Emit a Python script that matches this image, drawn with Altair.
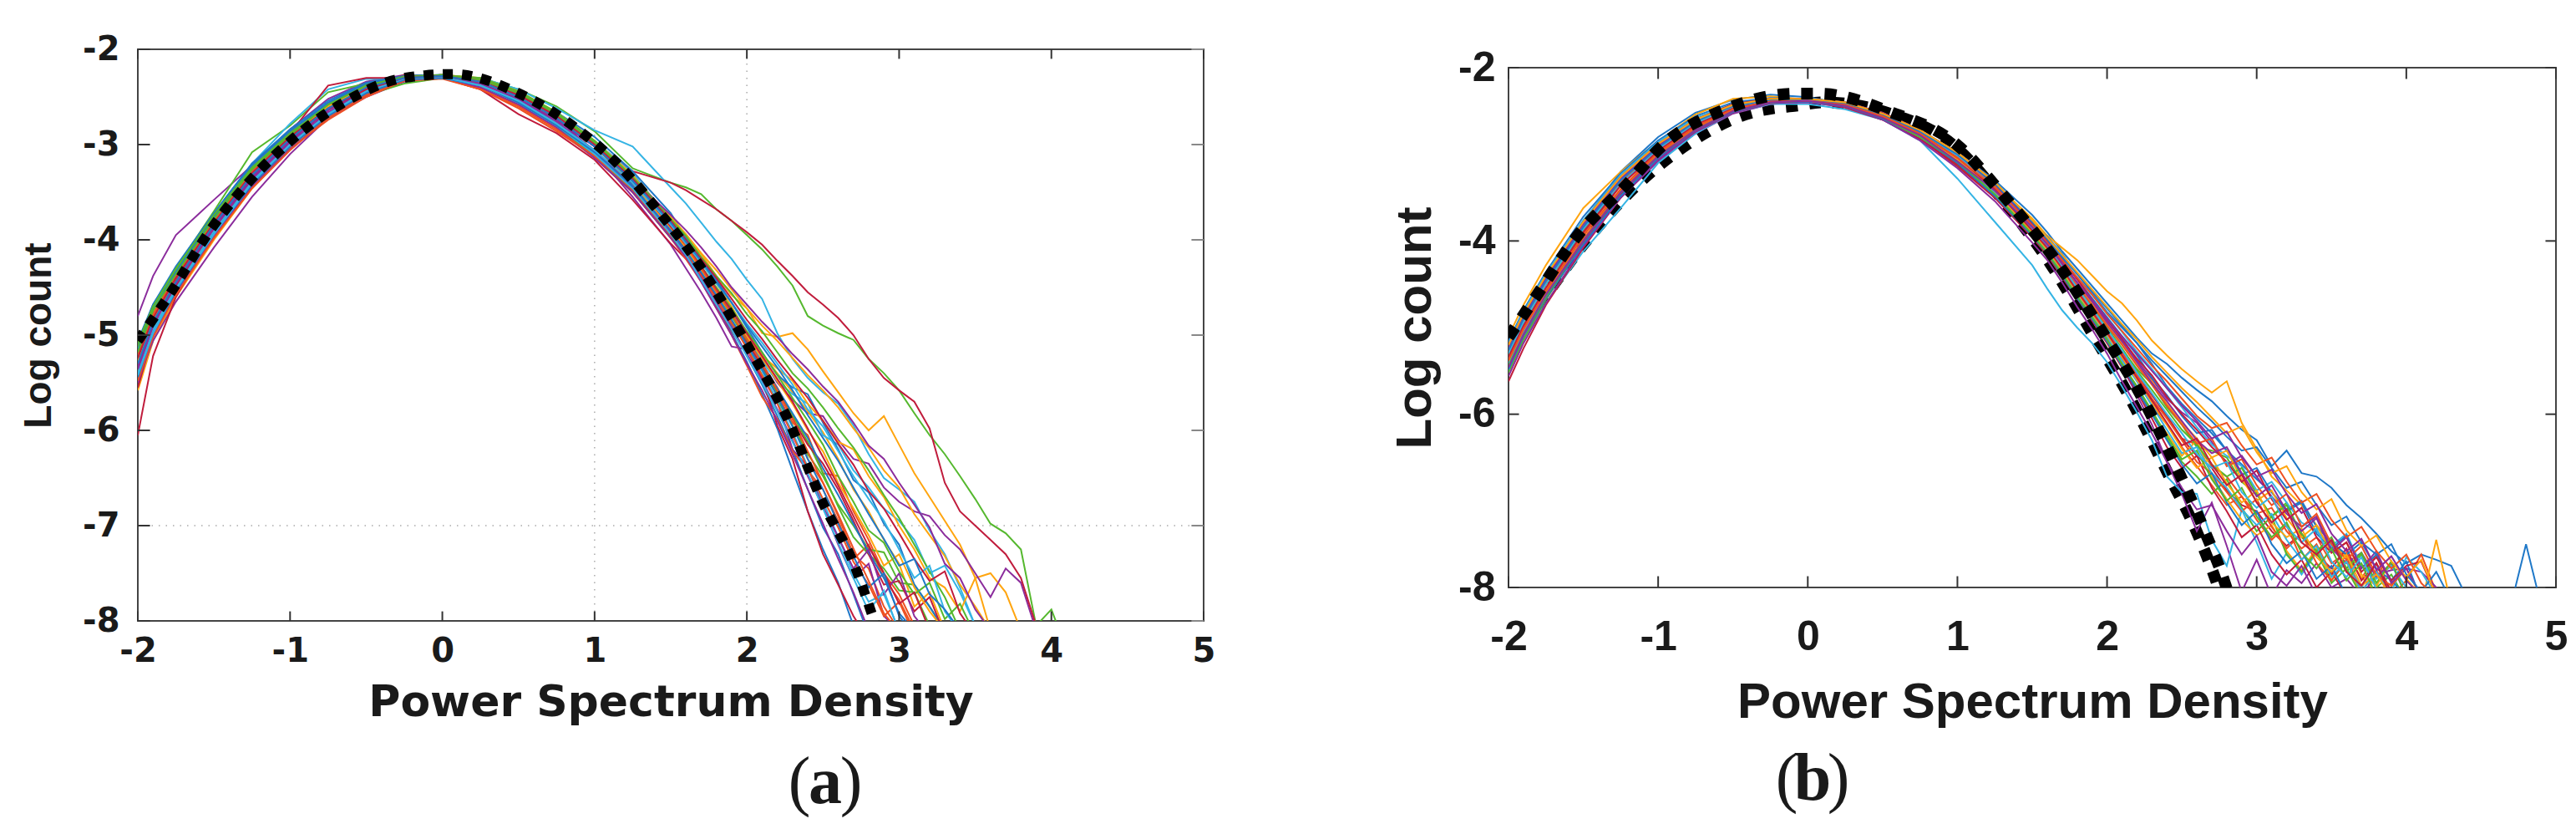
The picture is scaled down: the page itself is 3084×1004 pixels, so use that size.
import pandas as pd
import altair as alt

# matlab style colour order
COLOR_CYCLE = ["#1f78c8", "#ee5022", "#ffa50f", "#8b2c9c", "#55b82e", "#35b4e4", "#c01c3c"]

BODY_X = [-2, -1.9, -1.75, -1.5, -1.25, -1, -0.75, -0.5, -0.25, 0, 0.25, 0.5, 0.75, 1, 1.25, 1.5]
TAIL_X = [round(1.6 + i * 0.1, 1) for i in range(34)]
GRID_X = BODY_X + TAIL_X

X_TICKS = [-2, -1, 0, 1, 2, 3, 4, 5]
Y_TICKS_A = [-2, -3, -4, -5, -6, -7, -8]
Y_TICKS_B = [-2, -4, -6, -8]

# panel (a)
A_CURVES = [
    [-5.10,-4.68,-4.30,-3.72,-3.20,-2.86,-2.56,-2.36,-2.28,-2.27,-2.32,-2.46,-2.68,-2.98,-3.38,-3.88,-4.12,-4.38,-4.62,-4.90,-5.22,-5.52,-5.85,-6.20,-6.62,-7.02,-7.30,-7.72,-8.15],
    [-5.50,-5.00,-4.55,-3.98,-3.44,-3.05,-2.73,-2.48,-2.32,-2.30,-2.42,-2.62,-2.86,-3.12,-3.48,-3.96,-4.10,-4.30,-4.60,-4.80,-5.05,-5.30,-5.55,-5.85,-6.30,-6.55,-6.90,-7.30,-7.45,-7.85,-8.10],
    [-5.58,-5.06,-4.60,-4.00,-3.46,-3.04,-2.72,-2.47,-2.31,-2.29,-2.38,-2.55,-2.78,-3.06,-3.42,-3.80,-3.98,-4.15,-4.38,-4.58,-4.72,-4.98,-5.02,-4.98,-5.15,-5.38,-5.60,-5.82,-6.00,-5.85,-6.15,-6.45,-6.70,-6.95,-7.20,-7.55,-7.50,-7.70,-8.10],
    [-4.80,-4.38,-3.95,-3.58,-3.22,-2.84,-2.52,-2.34,-2.27,-2.28,-2.36,-2.52,-2.74,-3.02,-3.40,-3.88,-4.08,-4.30,-4.55,-4.78,-5.02,-5.25,-5.50,-5.68,-5.82,-5.85,-6.10,-6.30,-6.35,-6.60,-6.75,-6.85,-6.90,-7.10,-7.25,-7.50,-7.75,-7.45,-7.60,-8.10],
    [-5.30,-4.90,-4.30,-3.70,-3.08,-2.80,-2.45,-2.36,-2.30,-2.28,-2.30,-2.42,-2.60,-2.86,-3.25,-3.40,-3.45,-3.52,-3.68,-3.80,-3.95,-4.10,-4.28,-4.48,-4.80,-4.90,-4.98,-5.05,-5.25,-5.40,-5.58,-5.82,-6.05,-6.25,-6.48,-6.72,-6.98,-7.08,-7.25,-8.05,-7.88,-8.30],
    [-5.30,-4.85,-4.45,-3.80,-3.20,-2.78,-2.42,-2.31,-2.32,-2.29,-2.30,-2.42,-2.62,-2.85,-3.02,-3.45,-3.62,-3.82,-4.02,-4.20,-4.42,-4.62,-4.98,-5.25,-5.45,-5.60,-5.72,-5.95,-6.25,-6.50,-6.62,-6.75,-7.05,-7.30,-7.65,-8.05],
    [-5.55,-5.00,-4.50,-3.88,-3.36,-2.88,-2.38,-2.30,-2.30,-2.30,-2.40,-2.58,-2.75,-2.98,-3.28,-3.40,-3.48,-3.58,-3.68,-3.80,-3.92,-4.05,-4.22,-4.38,-4.55,-4.68,-4.82,-5.00,-5.25,-5.45,-5.58,-5.70,-5.98,-6.55,-6.85,-7.00,-7.15,-7.30,-7.55,-8.05],
    [-5.22,-4.78,-4.34,-3.76,-3.24,-2.90,-2.60,-2.40,-2.30,-2.28,-2.35,-2.50,-2.72,-3.02,-3.42,-3.92,-4.15,-4.42,-4.68,-4.98,-5.28,-5.62,-5.98,-6.42,-6.85,-7.25,-7.60,-8.05],
    [-5.42,-4.96,-4.52,-3.94,-3.42,-3.02,-2.70,-2.46,-2.31,-2.29,-2.40,-2.58,-2.82,-3.10,-3.48,-3.98,-4.18,-4.40,-4.66,-4.88,-5.12,-5.35,-5.62,-5.92,-6.05,-6.45,-6.48,-6.85,-7.15,-7.50,-7.72,-8.05],
    [-5.18,-4.76,-4.36,-3.78,-3.26,-2.90,-2.60,-2.40,-2.29,-2.27,-2.30,-2.44,-2.66,-2.96,-3.32,-3.78,-4.02,-4.24,-4.46,-4.70,-4.98,-5.20,-5.40,-5.60,-5.80,-6.02,-6.30,-6.62,-6.85,-7.15,-7.40,-7.85,-7.70,-8.10],
    [-5.46,-5.06,-4.65,-4.08,-3.55,-3.10,-2.72,-2.50,-2.34,-2.28,-2.32,-2.47,-2.72,-3.08,-3.55,-4.05,-4.30,-4.55,-4.82,-5.12,-5.15,-5.45,-5.70,-6.20,-6.38,-6.80,-7.20,-7.55,-7.40,-7.95,-8.10],
    [-5.38,-4.92,-4.54,-3.92,-3.40,-3.00,-2.68,-2.48,-2.36,-2.30,-2.38,-2.54,-2.80,-3.12,-3.50,-3.98,-4.14,-4.38,-4.60,-4.86,-5.12,-5.42,-5.68,-5.95,-6.25,-6.48,-6.78,-7.00,-7.25,-7.28,-7.60,-7.62,-7.85,-8.10],
    [-5.14,-4.72,-4.34,-3.76,-3.24,-2.88,-2.58,-2.38,-2.29,-2.27,-2.32,-2.46,-2.68,-2.96,-3.30,-3.80,-4.05,-4.28,-4.50,-4.74,-5.00,-5.28,-5.48,-5.62,-5.72,-6.05,-6.15,-6.42,-6.60,-6.82,-6.95,-7.15,-7.50,-7.42,-7.70,-8.05],
    [-6.05,-5.22,-4.60,-3.92,-3.40,-3.00,-2.68,-2.40,-2.27,-2.30,-2.42,-2.68,-2.88,-3.16,-3.58,-4.04,-4.20,-4.42,-4.70,-4.95,-5.20,-5.45,-5.95,-6.30,-6.85,-7.30,-7.62,-7.95,-8.20],
    [-5.06,-4.68,-4.28,-3.72,-3.20,-2.84,-2.54,-2.35,-2.28,-2.27,-2.32,-2.45,-2.66,-2.92,-3.28,-3.72,-3.98,-4.20,-4.42,-4.66,-4.92,-5.18,-5.42,-5.55,-5.62,-5.92,-6.20,-6.52,-6.65,-6.98,-7.20,-7.62,-7.85,-8.10],
    [-5.44,-5.00,-4.56,-3.98,-3.44,-3.04,-2.74,-2.50,-2.33,-2.30,-2.42,-2.60,-2.84,-3.14,-3.50,-3.98,-4.20,-4.44,-4.72,-5.00,-5.32,-5.65,-5.88,-6.22,-6.42,-6.62,-6.95,-7.35,-7.20,-7.55,-7.78,-8.10],
    [-5.20,-4.76,-4.36,-3.80,-3.28,-2.92,-2.60,-2.40,-2.29,-2.27,-2.31,-2.44,-2.66,-2.96,-3.32,-3.82,-4.08,-4.30,-4.54,-4.76,-5.00,-5.22,-5.35,-5.48,-5.72,-5.90,-6.12,-6.20,-6.48,-6.70,-7.00,-7.25,-7.55,-7.65,-7.90,-7.55,-8.10],
    [-5.50,-5.02,-4.56,-3.96,-3.44,-3.05,-2.72,-2.48,-2.32,-2.30,-2.40,-2.58,-2.82,-3.14,-3.50,-3.98,-4.18,-4.44,-4.72,-5.00,-5.30,-5.58,-5.90,-6.25,-6.62,-6.98,-7.35,-7.70,-8.10],
    [-5.12,-4.70,-4.32,-3.74,-3.24,-2.88,-2.58,-2.38,-2.28,-2.27,-2.31,-2.46,-2.68,-2.98,-3.36,-3.86,-4.10,-4.32,-4.58,-4.80,-5.06,-5.34,-5.60,-5.84,-6.12,-6.45,-6.80,-7.12,-7.30,-7.45,-7.68,-7.70,-8.05],
    [-5.36,-4.94,-4.50,-3.90,-3.38,-3.00,-2.68,-2.45,-2.32,-2.29,-2.36,-2.54,-2.76,-3.08,-3.44,-3.92,-4.10,-4.35,-4.58,-4.84,-5.10,-5.38,-5.70,-6.02,-6.38,-6.75,-7.12,-7.50,-7.80,-7.72,-8.10],
    [-5.32,-4.88,-4.48,-3.88,-3.36,-2.96,-2.64,-2.42,-2.30,-2.28,-2.34,-2.48,-2.72,-3.00,-3.38,-3.86,-4.12,-4.36,-4.60,-4.85,-5.08,-5.32,-5.58,-5.88,-6.15,-6.35,-6.62,-6.95,-7.30,-7.62,-7.58,-7.90,-7.75,-8.15],
    [-5.16,-4.74,-4.34,-3.76,-3.22,-2.86,-2.56,-2.37,-2.28,-2.27,-2.33,-2.47,-2.70,-3.00,-3.36,-3.84,-4.06,-4.30,-4.52,-4.76,-5.02,-5.30,-5.56,-5.82,-6.08,-6.40,-6.68,-6.98,-7.28,-7.55,-7.92,-8.10],
    [-5.48,-5.02,-4.58,-3.98,-3.46,-3.06,-2.72,-2.48,-2.33,-2.31,-2.42,-2.60,-2.84,-3.12,-3.46,-3.94,-4.14,-4.38,-4.62,-4.86,-5.14,-5.42,-5.72,-6.05,-6.40,-6.72,-7.02,-7.38,-7.62,-7.95,-7.80,-8.15],
    [-5.24,-4.80,-4.40,-3.82,-3.30,-2.94,-2.62,-2.40,-2.30,-2.28,-2.34,-2.50,-2.72,-3.02,-3.40,-3.88,-4.08,-4.32,-4.56,-4.78,-5.02,-5.24,-5.48,-5.72,-6.00,-6.22,-6.55,-6.82,-7.10,-7.42,-7.30,-7.65,-7.90,-8.10],
    [-5.34,-4.90,-4.46,-3.88,-3.36,-2.98,-2.66,-2.44,-2.31,-2.29,-2.36,-2.52,-2.76,-3.06,-3.44,-3.92,-4.16,-4.40,-4.66,-4.92,-5.20,-5.48,-5.78,-6.10,-6.48,-6.80,-7.12,-7.45,-7.25,-7.72,-7.50,-7.95,-8.15],
    [-5.08,-4.70,-4.30,-3.74,-3.24,-2.88,-2.60,-2.38,-2.29,-2.27,-2.30,-2.44,-2.66,-2.96,-3.34,-3.82,-4.04,-4.28,-4.50,-4.72,-4.96,-5.18,-5.42,-5.66,-5.90,-6.15,-6.48,-6.75,-7.05,-7.18,-7.48,-7.72,-7.60,-7.98,-7.82,-8.15],
    [-5.40,-4.96,-4.52,-3.92,-3.40,-3.00,-2.68,-2.44,-2.31,-2.30,-2.38,-2.56,-2.80,-3.10,-3.46,-3.94,-4.16,-4.42,-4.68,-4.94,-5.22,-5.50,-5.80,-6.12,-6.45,-6.82,-7.18,-7.55,-7.90,-7.68,-8.12],
    [-5.26,-4.84,-4.42,-3.84,-3.32,-2.94,-2.62,-2.42,-2.30,-2.28,-2.34,-2.48,-2.72,-3.02,-3.38,-3.86,-4.06,-4.28,-4.52,-4.74,-4.98,-5.22,-5.46,-5.70,-5.98,-6.28,-6.58,-6.90,-7.22,-7.50,-7.82,-7.70,-8.10],
    [-5.44,-4.98,-4.54,-3.94,-3.42,-3.02,-2.70,-2.46,-2.32,-2.30,-2.38,-2.56,-2.80,-3.08,-3.44,-3.90,-4.12,-4.34,-4.58,-4.84,-5.10,-5.36,-5.64,-5.96,-6.30,-6.62,-6.98,-7.32,-7.65,-7.50,-7.95,-8.15],
    [-5.20,-4.78,-4.38,-3.80,-3.28,-2.90,-2.60,-2.40,-2.29,-2.27,-2.32,-2.46,-2.70,-3.00,-3.36,-3.84,-4.06,-4.30,-4.54,-4.78,-5.04,-5.30,-5.58,-5.88,-6.22,-6.55,-6.88,-7.24,-7.58,-7.92,-8.12],
    [-5.28,-4.84,-4.40,-3.82,-3.30,-2.92,-2.60,-2.40,-2.30,-2.28,-2.34,-2.50,-2.72,-3.00,-3.34,-3.76,-3.94,-4.14,-4.32,-4.52,-4.72,-4.90,-5.06,-5.24,-5.42,-5.58,-5.76,-5.98,-6.18,-6.42,-6.60,-6.88,-7.10,-7.32,-7.62,-7.85,-8.10],
    [-5.36,-4.90,-4.46,-3.86,-3.34,-2.96,-2.64,-2.42,-2.31,-2.29,-2.36,-2.52,-2.74,-3.02,-3.36,-3.74,-3.90,-4.08,-4.28,-4.50,-4.68,-4.86,-5.02,-5.20,-5.36,-5.54,-5.70,-5.92,-6.16,-6.30,-6.55,-6.78,-7.02,-7.40,-7.55,-7.88,-8.10],
    [-5.18,-4.74,-4.36,-3.78,-3.26,-2.90,-2.58,-2.38,-2.29,-2.27,-2.32,-2.46,-2.68,-2.98,-3.34,-3.78,-3.96,-4.18,-4.38,-4.56,-4.78,-4.96,-5.18,-5.40,-5.56,-5.76,-5.98,-6.18,-6.42,-6.68,-6.92,-7.20,-7.48,-7.75,-8.10],
    [-5.42,-4.98,-4.52,-3.94,-3.40,-3.00,-2.68,-2.44,-2.31,-2.29,-2.38,-2.54,-2.78,-3.06,-3.40,-3.84,-4.04,-4.24,-4.46,-4.66,-4.88,-5.08,-5.30,-5.52,-5.78,-5.96,-6.22,-6.48,-6.72,-6.95,-7.25,-7.55,-7.42,-7.90,-8.12],
    [-5.24,-4.82,-4.40,-3.82,-3.30,-2.92,-2.62,-2.42,-2.30,-2.28,-2.34,-2.48,-2.70,-3.00,-3.36,-3.80,-4.00,-4.20,-4.40,-4.62,-4.84,-5.04,-5.26,-5.46,-5.66,-5.90,-6.14,-6.36,-6.64,-6.82,-7.08,-7.35,-7.58,-7.48,-7.92,-8.15],
    [-5.30,-4.86,-4.44,-3.84,-3.32,-2.94,-2.62,-2.40,-2.30,-2.28,-2.34,-2.50,-2.72,-3.02,-3.38,-3.82,-4.02,-4.22,-4.44,-4.66,-4.90,-5.12,-5.34,-5.58,-5.84,-6.08,-6.32,-6.60,-6.88,-7.14,-7.42,-7.35,-7.72,-7.88,-8.10],
]
A_BLACK_X = [-2, -1.79, -1.52, -1.2, -1.01, -0.66, -0.25, 0.07, 0.5, 0.88, 1.18, 1.42, 1.66, 1.98, 2.28, 2.49, 2.71, 2.83, 2.9]
A_BLACK_Y = [-5.06, -4.57, -3.89, -3.27, -2.98, -2.57, -2.30, -2.26, -2.46, -2.83, -3.25, -3.70, -4.20, -5.04, -5.92, -6.73, -7.43, -7.97, -8.3]

# panel (b)
B_CURVES = [
    [-5.20,-4.86,-4.40,-3.78,-3.20,-2.80,-2.52,-2.37,-2.31,-2.34,-2.42,-2.56,-2.74,-2.98,-3.30,-3.70,-3.90,-4.12,-4.32,-4.52,-4.72,-4.92,-5.12,-5.30,-5.42,-5.58,-5.72,-5.85,-6.02,-6.18,-6.30,-6.60,-6.42,-6.68,-6.72,-6.85,-7.05,-7.20,-7.38,-7.58,-7.72,-7.62,-7.68,-7.75,-8.10,-8.20,-8.20,-8.20,-7.50,-8.20],
    [-5.42,-5.05,-4.62,-3.98,-3.42,-3.00,-2.70,-2.50,-2.41,-2.38,-2.42,-2.55,-2.78,-3.08,-3.46,-3.92,-4.10,-4.32,-4.58,-4.82,-5.05,-5.32,-5.60,-5.85,-6.02,-6.28,-6.35,-6.60,-6.72,-6.95,-7.15,-7.08,-7.35,-7.55,-7.42,-7.72,-7.60,-7.90,-7.62,-8.10,-7.92,-7.62,-8.05,-8.20],
    [-5.10,-4.74,-4.28,-3.62,-3.20,-2.85,-2.54,-2.36,-2.33,-2.37,-2.42,-2.56,-2.76,-3.00,-3.34,-3.74,-3.94,-4.08,-4.22,-4.40,-4.58,-4.72,-4.92,-5.15,-5.32,-5.48,-5.62,-5.75,-5.62,-6.10,-6.40,-6.72,-6.88,-7.05,-7.28,-7.48,-7.65,-7.88,-8.05,-7.95,-8.20,-8.20,-7.45,-8.20],
    [-5.36,-5.00,-4.60,-4.04,-3.50,-3.08,-2.76,-2.53,-2.42,-2.39,-2.45,-2.56,-2.75,-3.02,-3.38,-3.88,-4.10,-4.35,-4.62,-4.88,-5.12,-5.45,-5.78,-6.12,-6.55,-6.92,-7.35,-7.02,-7.52,-8.05,-7.68,-8.10,-7.80,-7.95,-7.72,-8.00,-7.90,-8.10,-7.85,-7.80,-7.78,-7.82,-8.00,-8.15],
    [-5.32,-4.96,-4.50,-3.86,-3.32,-2.92,-2.62,-2.45,-2.38,-2.38,-2.43,-2.58,-2.82,-3.12,-3.44,-3.90,-4.08,-4.34,-4.60,-4.82,-5.02,-5.25,-5.48,-5.65,-5.92,-6.12,-6.38,-6.42,-6.50,-6.78,-6.92,-7.18,-7.02,-7.42,-7.58,-7.48,-7.82,-7.62,-8.00,-7.85,-8.15],
    [-5.50,-5.14,-4.72,-4.12,-3.62,-3.10,-2.76,-2.52,-2.42,-2.42,-2.48,-2.60,-2.84,-3.28,-3.78,-4.28,-4.55,-4.80,-5.00,-5.18,-5.40,-5.68,-5.98,-6.30,-6.72,-6.90,-6.92,-7.45,-7.75,-7.10,-7.48,-7.90,-7.60,-7.85,-7.60,-7.82,-7.70,-8.00,-7.72,-8.05,-7.65,-7.82,-8.10],
    [-5.62,-5.24,-4.74,-4.08,-3.50,-3.04,-2.72,-2.50,-2.40,-2.39,-2.46,-2.60,-2.82,-3.14,-3.50,-3.94,-4.08,-4.30,-4.54,-4.78,-5.02,-5.28,-5.55,-5.78,-6.02,-6.28,-6.48,-6.62,-6.88,-7.05,-7.12,-7.35,-7.52,-7.38,-7.62,-7.78,-7.55,-7.92,-7.72,-8.05,-8.15],
    [-5.16,-4.80,-4.36,-3.72,-3.22,-2.84,-2.56,-2.40,-2.35,-2.36,-2.40,-2.54,-2.72,-2.98,-3.32,-3.78,-3.95,-4.15,-4.38,-4.60,-4.82,-5.00,-5.18,-5.42,-5.68,-5.88,-6.05,-6.22,-6.42,-6.58,-6.75,-6.90,-7.10,-7.00,-7.30,-7.48,-7.62,-7.48,-7.78,-7.92,-7.70,-8.15],
    [-5.34,-4.98,-4.55,-3.92,-3.36,-2.96,-2.66,-2.47,-2.39,-2.37,-2.42,-2.55,-2.76,-3.04,-3.40,-3.88,-4.12,-4.36,-4.62,-4.86,-5.12,-5.36,-5.62,-5.90,-6.12,-6.38,-6.60,-6.82,-7.05,-6.95,-7.22,-7.45,-7.28,-7.68,-7.50,-7.85,-7.62,-8.10],
    [-5.44,-5.06,-4.64,-4.00,-3.44,-3.02,-2.72,-2.50,-2.40,-2.38,-2.44,-2.58,-2.80,-3.10,-3.46,-3.92,-4.15,-4.40,-4.66,-4.90,-5.15,-5.40,-5.72,-6.00,-6.22,-6.48,-6.30,-6.72,-6.98,-7.22,-7.40,-7.28,-7.58,-7.80,-7.55,-7.92,-7.70,-8.10],
    [-5.24,-4.88,-4.44,-3.82,-3.28,-2.88,-2.60,-2.43,-2.37,-2.37,-2.42,-2.54,-2.74,-3.00,-3.36,-3.82,-4.02,-4.24,-4.48,-4.70,-4.92,-5.12,-5.38,-5.60,-5.82,-5.98,-6.10,-6.32,-6.58,-6.48,-6.72,-6.95,-7.15,-7.30,-7.18,-7.55,-7.72,-7.60,-7.88,-7.72,-8.10],
    [-5.52,-5.14,-4.68,-4.02,-3.46,-3.04,-2.72,-2.50,-2.40,-2.38,-2.44,-2.58,-2.80,-3.12,-3.48,-3.92,-4.10,-4.36,-4.62,-4.88,-5.15,-5.42,-5.68,-5.98,-6.28,-6.55,-6.72,-6.92,-6.75,-7.08,-7.35,-7.18,-7.62,-7.82,-7.58,-7.95,-7.78,-8.10],
    [-5.18,-4.82,-4.38,-3.76,-3.24,-2.86,-2.58,-2.42,-2.36,-2.36,-2.40,-2.52,-2.72,-2.98,-3.32,-3.78,-3.98,-4.20,-4.42,-4.62,-4.84,-5.05,-5.28,-5.48,-5.70,-5.92,-6.15,-6.35,-6.48,-6.60,-6.88,-6.78,-7.02,-7.25,-7.35,-7.52,-7.38,-7.75,-7.90,-7.75,-8.00,-8.20],
    [-5.46,-5.10,-4.66,-4.02,-3.46,-3.04,-2.74,-2.52,-2.41,-2.39,-2.44,-2.60,-2.82,-3.12,-3.50,-3.96,-4.16,-4.42,-4.66,-4.92,-5.18,-5.46,-5.74,-6.05,-6.38,-6.62,-6.48,-6.85,-7.12,-7.42,-7.28,-7.62,-7.85,-7.68,-8.00,-7.82,-8.10],
    [-5.26,-4.90,-4.46,-3.84,-3.30,-2.90,-2.62,-2.44,-2.37,-2.37,-2.41,-2.53,-2.73,-3.00,-3.34,-3.80,-4.00,-4.20,-4.44,-4.66,-4.88,-5.10,-5.32,-5.58,-5.78,-6.02,-6.22,-6.18,-6.42,-6.70,-6.62,-6.90,-7.12,-7.02,-7.38,-7.55,-7.40,-7.78,-7.62,-7.92,-8.10],
    [-5.40,-5.04,-4.60,-3.98,-3.42,-3.00,-2.70,-2.49,-2.39,-2.38,-2.43,-2.56,-2.78,-3.06,-3.42,-3.88,-4.08,-4.32,-4.56,-4.80,-5.04,-5.30,-5.55,-5.82,-6.05,-6.30,-6.55,-6.68,-6.90,-7.12,-6.98,-7.30,-7.55,-7.38,-7.72,-7.92,-7.68,-8.05,-7.80,-8.15],
    [-5.22,-4.86,-4.42,-3.80,-3.26,-2.88,-2.60,-2.43,-2.36,-2.36,-2.41,-2.53,-2.73,-3.00,-3.35,-3.82,-4.04,-4.26,-4.50,-4.72,-4.96,-5.18,-5.42,-5.62,-5.88,-6.10,-6.28,-6.50,-6.42,-6.75,-7.00,-6.88,-7.20,-7.42,-7.28,-7.60,-7.48,-7.85,-7.98,-7.70,-7.90,-8.10],
    [-5.56,-5.18,-4.72,-4.06,-3.50,-3.06,-2.74,-2.52,-2.41,-2.40,-2.45,-2.60,-2.84,-3.16,-3.54,-4.02,-4.22,-4.48,-4.76,-5.02,-5.30,-5.62,-5.92,-6.22,-6.55,-6.85,-7.10,-7.05,-7.35,-7.62,-7.40,-7.82,-7.98,-7.75,-8.10],
    [-5.30,-4.94,-4.50,-3.88,-3.34,-2.94,-2.64,-2.46,-2.38,-2.37,-2.42,-2.54,-2.74,-3.02,-3.38,-3.85,-4.06,-4.30,-4.54,-4.76,-5.00,-5.24,-5.50,-5.72,-5.95,-6.18,-6.35,-6.58,-6.72,-6.62,-6.92,-7.18,-7.05,-7.38,-7.58,-7.42,-7.78,-7.60,-7.95,-7.70,-8.10],
    [-5.42,-5.06,-4.62,-4.00,-3.44,-3.02,-2.72,-2.50,-2.40,-2.38,-2.43,-2.58,-2.80,-3.08,-3.44,-3.92,-4.12,-4.38,-4.62,-4.86,-5.10,-5.38,-5.62,-5.90,-6.18,-6.45,-6.38,-6.68,-6.85,-7.10,-7.28,-7.15,-7.45,-7.68,-7.52,-7.88,-7.70,-8.05,-7.82,-8.10],
    [-5.20,-4.84,-4.42,-3.78,-3.26,-2.88,-2.60,-2.42,-2.36,-2.36,-2.40,-2.52,-2.72,-2.98,-3.32,-3.80,-4.00,-4.22,-4.44,-4.68,-4.90,-5.14,-5.36,-5.55,-5.80,-6.00,-6.18,-6.38,-6.55,-6.78,-6.65,-6.98,-7.22,-7.08,-7.42,-7.60,-7.48,-7.82,-7.65,-7.92,-7.75,-7.70,-8.10],
    [-5.48,-5.10,-4.66,-4.04,-3.48,-3.04,-2.72,-2.51,-2.40,-2.39,-2.44,-2.59,-2.80,-3.10,-3.48,-3.94,-4.14,-4.40,-4.66,-4.90,-5.16,-5.44,-5.72,-6.00,-6.30,-6.58,-6.80,-6.68,-7.02,-7.28,-7.12,-7.50,-7.72,-7.58,-7.90,-7.75,-8.10],
    [-5.28,-4.92,-4.48,-3.86,-3.32,-2.92,-2.62,-2.45,-2.38,-2.37,-2.42,-2.54,-2.74,-3.02,-3.36,-3.84,-4.04,-4.28,-4.52,-4.74,-4.98,-5.20,-5.44,-5.66,-5.90,-6.12,-6.34,-6.28,-6.60,-6.52,-6.82,-7.05,-6.92,-7.30,-7.15,-7.50,-7.68,-7.52,-7.86,-7.98,-7.78,-8.12],
    [-5.38,-5.02,-4.58,-3.94,-3.40,-2.98,-2.68,-2.48,-2.39,-2.38,-2.43,-2.56,-2.78,-3.06,-3.42,-3.90,-4.10,-4.34,-4.60,-4.84,-5.08,-5.34,-5.60,-5.86,-6.12,-6.40,-6.62,-6.50,-6.80,-7.02,-6.88,-7.25,-7.42,-7.32,-7.65,-7.82,-7.62,-7.98,-7.85,-8.10],
    [-5.22,-4.86,-4.44,-3.80,-3.28,-2.90,-2.60,-2.44,-2.37,-2.37,-2.41,-2.53,-2.74,-3.00,-3.34,-3.82,-4.02,-4.26,-4.48,-4.70,-4.94,-5.16,-5.40,-5.64,-5.85,-6.08,-6.30,-6.45,-6.38,-6.68,-6.95,-6.82,-7.12,-7.35,-7.20,-7.58,-7.42,-7.78,-7.58,-7.95,-7.78,-8.10],
    [-5.44,-5.08,-4.64,-4.00,-3.44,-3.02,-2.72,-2.50,-2.40,-2.38,-2.44,-2.58,-2.80,-3.08,-3.46,-3.92,-4.14,-4.38,-4.64,-4.88,-5.14,-5.42,-5.68,-5.96,-6.25,-6.52,-6.42,-6.75,-7.00,-6.85,-7.18,-7.42,-7.25,-7.60,-7.78,-7.55,-7.92,-7.72,-8.10],
    [-5.30,-4.94,-4.50,-3.86,-3.34,-2.94,-2.64,-2.46,-2.38,-2.37,-2.42,-2.55,-2.75,-3.02,-3.38,-3.86,-4.06,-4.30,-4.54,-4.78,-5.02,-5.26,-5.52,-5.76,-6.00,-6.22,-6.46,-6.62,-6.55,-6.90,-7.08,-6.95,-7.30,-7.48,-7.32,-7.70,-7.88,-7.65,-8.02,-8.15],
    [-5.34,-4.98,-4.54,-3.90,-3.36,-2.96,-2.66,-2.47,-2.39,-2.38,-2.43,-2.56,-2.76,-3.04,-3.40,-3.88,-4.08,-4.32,-4.58,-4.82,-5.06,-5.32,-5.58,-5.84,-6.10,-6.36,-6.28,-6.58,-6.82,-6.70,-7.02,-7.25,-7.10,-7.48,-7.62,-7.45,-7.82,-7.98,-7.72,-8.12],
    [-5.26,-4.90,-4.46,-3.84,-3.30,-2.92,-2.62,-2.44,-2.37,-2.37,-2.41,-2.54,-2.74,-3.00,-3.34,-3.78,-3.98,-4.18,-4.38,-4.58,-4.78,-4.98,-5.18,-5.38,-5.56,-5.74,-5.92,-6.08,-6.26,-6.42,-6.38,-6.62,-6.85,-6.78,-7.05,-7.28,-7.18,-7.48,-7.62,-7.50,-7.85,-8.05,-7.82,-8.15],
    [-5.38,-5.02,-4.58,-3.94,-3.40,-2.98,-2.68,-2.48,-2.39,-2.38,-2.43,-2.56,-2.76,-3.04,-3.38,-3.82,-4.02,-4.22,-4.42,-4.62,-4.84,-5.04,-5.24,-5.44,-5.62,-5.82,-6.02,-6.16,-6.10,-6.36,-6.58,-6.50,-6.78,-7.02,-6.92,-7.22,-7.42,-7.30,-7.58,-7.78,-7.62,-7.95,-8.12],
    [-5.20,-4.84,-4.40,-3.78,-3.26,-2.88,-2.60,-2.43,-2.36,-2.36,-2.40,-2.53,-2.72,-2.98,-3.32,-3.76,-3.96,-4.16,-4.36,-4.56,-4.76,-4.96,-5.14,-5.34,-5.52,-5.70,-5.86,-6.04,-6.22,-6.14,-6.44,-6.68,-6.60,-6.90,-7.10,-6.98,-7.34,-7.52,-7.40,-7.70,-7.88,-7.68,-8.10],
    [-5.46,-5.08,-4.62,-4.00,-3.44,-3.02,-2.72,-2.50,-2.40,-2.38,-2.44,-2.58,-2.78,-3.08,-3.42,-3.84,-4.04,-4.26,-4.48,-4.68,-4.90,-5.10,-5.30,-5.50,-5.70,-5.90,-6.08,-6.28,-6.20,-6.50,-6.72,-6.64,-6.92,-7.14,-7.04,-7.38,-7.58,-7.44,-7.80,-7.64,-7.92,-8.10],
]
B_BLACK_X = [-2, -1.82, -1.54, -1.21, -0.96, -0.55, -0.08, 0.08, 0.55, 0.99, 1.32, 1.65, 1.98, 2.2, 2.45, 2.64, 2.79, 2.85]
B_BLACK_Y = [-5.11, -4.65, -3.94, -3.35, -2.88, -2.48, -2.30, -2.30, -2.51, -2.88, -3.50, -4.21, -5.08, -5.70, -6.56, -7.30, -7.96, -8.3]
B_BLACK2_X = [-2, -1.8, -1.5, -1.07, -0.81, -0.67, -0.38, -0.24, -0.08, 0.1, 0.55, 0.99, 1.3, 1.62, 1.92, 2.15, 2.4, 2.6, 2.74, 2.8]
B_BLACK2_Y = [-5.16, -4.74, -4.04, -3.24, -2.89, -2.74, -2.52, -2.47, -2.44, -2.40, -2.53, -2.92, -3.52, -4.26, -5.12, -5.80, -6.66, -7.36, -7.98, -8.3]


def curves_frame(curves):
    rows = []
    for i, values in enumerate(curves):
        for x, y in zip(GRID_X, values):
            rows.append({"x": x, "y": y, "curve": f"c{i:02d}"})
    return pd.DataFrame(rows)


def panel(curves, back_black, front_black, y_ticks, width, height, opts):
    sx = alt.Scale(domain=[-2, 5], nice=False)
    sy = alt.Scale(domain=[-8, -2], nice=False)
    # same axis object in every layer, axis=None in one layer would drop it for all
    x_enc = alt.X("x:Q", scale=sx, title="Power Spectrum Density",
                  axis=alt.Axis(values=X_TICKS, labelExpr="'' + datum.value", grid=False, ticks=False, domain=False,
                                labelFont=opts["font"], labelFontSize=opts["label_size"], labelFontWeight="bold",
                                labelColor="#1a1a1a", labelPadding=opts["label_pad_x"], labelFlush=False,
                                titleFont=opts["xtitle_font"], titleFontSize=opts["xtitle_size"], titleFontWeight="bold",
                                titleColor="#1a1a1a", titlePadding=opts["xtitle_pad"]))
    y_enc = alt.Y("y:Q", scale=sy, title="Log count",
                  axis=alt.Axis(values=y_ticks, labelExpr="'' + datum.value", grid=False, ticks=False, domain=False,
                                labelFont=opts["font"], labelFontSize=opts["label_size"], labelFontWeight="bold",
                                labelColor="#1a1a1a", labelPadding=opts["label_pad_y"],
                                titleFont="Liberation Sans", titleFontSize=opts["ytitle_size"], titleFontWeight="bold",
                                titleColor="#1a1a1a", titlePadding=opts["ytitle_pad"]))
    layers = []

    # dotted grid, only panel (a) shows it
    if opts["grid"]:
        gx = pd.DataFrame({"x": [1, 2]})
        gy = pd.DataFrame({"y": [-7]})
        layers.append(alt.Chart(gx).mark_rule(color="#aaaaaa", strokeWidth=1.5, strokeDash=[1.5, 7]).encode(x=x_enc))
        layers.append(alt.Chart(gy).mark_rule(color="#aaaaaa", strokeWidth=1.5, strokeDash=[1.5, 7]).encode(y=y_enc))

    def black_layer(bx, by):
        return (
            alt.Chart(pd.DataFrame({"x": bx, "y": by}))
            .mark_line(clip=True, color="black", interpolate="monotone",
                       strokeWidth=opts["black_w"], strokeDash=opts["black_dash"])
            .encode(x=x_enc, y=y_enc)
        )

    for bx, by in back_black:
        layers.append(black_layer(bx, by))

    names = [f"c{i:02d}" for i in range(len(curves))]
    palette = [COLOR_CYCLE[i % 7] for i in range(len(curves))]
    layers.append(
        alt.Chart(curves_frame(curves))
        .mark_line(clip=True, strokeWidth=opts["line_w"], strokeJoin="miter")
        .encode(x=x_enc, y=y_enc,
                color=alt.Color("curve:N", scale=alt.Scale(domain=names, range=palette), legend=None))
    )

    for bx, by in front_black:
        layers.append(black_layer(bx, by))

    # inward ticks on all four sides
    tick_color = "#333333"
    tx = pd.DataFrame({"x": X_TICKS})
    ty = pd.DataFrame({"y": y_ticks})
    dy, dx = opts["tick_dy"], opts["tick_dx"]
    layers.append(alt.Chart(tx.assign(y=-8, y2=-8 + dy)).mark_rule(color=tick_color, strokeWidth=2).encode(x=x_enc, y=y_enc, y2="y2:Q"))
    layers.append(alt.Chart(tx.assign(y=-2, y2=-2 - dy)).mark_rule(color=tick_color, strokeWidth=2).encode(x=x_enc, y=y_enc, y2="y2:Q"))
    layers.append(alt.Chart(ty.assign(x=-2, x2=-2 + dx)).mark_rule(color=tick_color, strokeWidth=2).encode(y=y_enc, x=x_enc, x2="x2:Q"))
    layers.append(alt.Chart(ty.assign(x=5, x2=5 - dx)).mark_rule(color=opts["right_tick"], strokeWidth=2).encode(y=y_enc, x=x_enc, x2="x2:Q"))

    # caption, bold letter between plain brackets
    cx, cy = opts["caption_pos"]
    for text, off, weight in [("(", -31, "normal"), (opts["caption"], 0, "bold"), (")", 31, "normal")]:
        layers.append(
            alt.Chart(pd.DataFrame({"t": [text]}))
            .mark_text(font="Liberation Serif", fontSize=80, fontWeight=weight, color="#1a1a1a", align="center", baseline="middle")
            .encode(text="t:N", x=alt.value(cx + off), y=alt.value(cy))
        )

    return alt.layer(*layers).properties(width=width, height=height)


opts_a = dict(font="DejaVu Sans", label_size=40, label_pad_x=16, label_pad_y=22,
              xtitle_font="DejaVu Sans", xtitle_size=52, xtitle_pad=16, ytitle_size=46, ytitle_pad=28,
              grid=True, line_w=2, black_w=12, black_dash=[12, 11], tick_dy=0.1, tick_dx=0.08,
              right_tick="#888888", caption="a", caption_pos=(823, 878))
opts_b = dict(font="Liberation Sans", label_size=50, label_pad_x=34, label_pad_y=16,
              xtitle_font="Liberation Sans", xtitle_size=60, xtitle_pad=24, ytitle_size=60, ytitle_pad=20,
              grid=False, line_w=2, black_w=14, black_dash=[14, 14], tick_dy=0.13, tick_dx=0.07,
              right_tick="#333333", caption="b", caption_pos=(364, 852))

panel_a = panel(A_CURVES, [], [(A_BLACK_X, A_BLACK_Y)], Y_TICKS_A, 1276, 684, opts_a)
panel_b = panel(B_CURVES, [(B_BLACK2_X, B_BLACK2_Y)], [(B_BLACK_X, B_BLACK_Y)], Y_TICKS_B, 1254, 622, opts_b)

# the right panel sits a little lower than the left one, an empty cell pushes it down
spacer = (
    alt.Chart(pd.DataFrame({"t": [""]}))
    .mark_text(opacity=0)
    .encode(text="t:N")
    .properties(width=10, height=1, view=alt.ViewConfig(stroke=None))
)

chart = (
    alt.hconcat(panel_a, alt.vconcat(spacer, panel_b, spacing=21, bounds="flush"), spacing=207,
                padding={"left": 14, "top": 30, "right": 0, "bottom": 0})
    .configure_view(stroke="#444444", strokeWidth=2)
)

chart.save("out.html", embed_options={"renderer": "svg", "actions": False})
